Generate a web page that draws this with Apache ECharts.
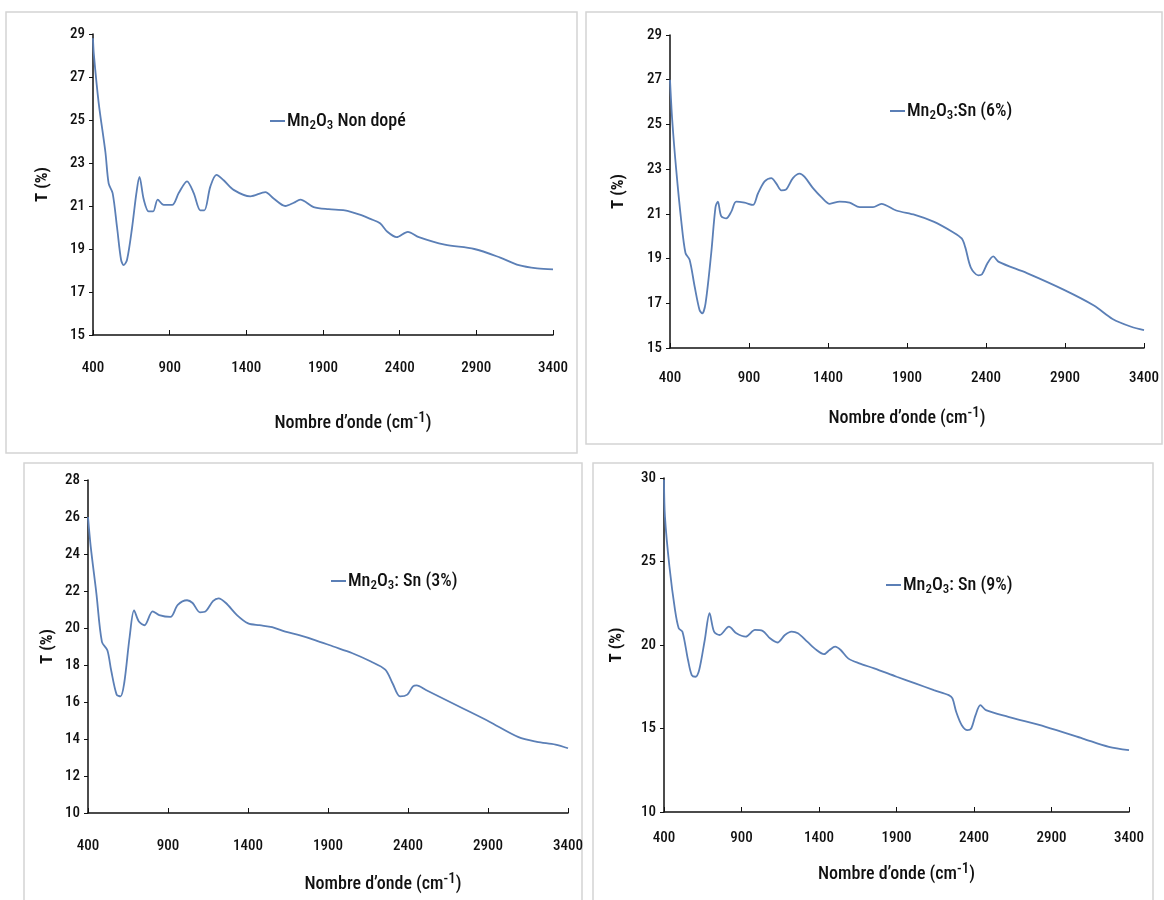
<!DOCTYPE html>
<html>
<head>
<meta charset="utf-8">
<script src="https://cdn.jsdelivr.net/npm/echarts@6/dist/echarts.min.js"></script>
<style>
html,body{margin:0;padding:0;background:#fff;}
#chart{width:1164px;height:900px;}
</style>
</head>
<body>
<div id="chart"></div>
<script>
// ---- Data ----
var xTicks = [400, 900, 1400, 1900, 2400, 2900, 3400];

var xNonDope = [400,405,437,481,502,528,557,583,600,622,655,683,703,731,763,792,822,861,916,959,1013,1057,1100,1126,1165,1205,1252,1317,1426,1524,1578,1654,1709,1752,1839,1937,2042,2140,2209,2272,2320,2380,2453,2525,2694,2887,3056,3177,3297,3400];
var tNonDope = [28.8,28.1,25.8,23.5,22.05,21.6,20.0,18.5,18.25,18.5,20.0,21.6,22.35,21.3,20.75,20.75,21.3,21.05,21.05,21.6,22.15,21.6,20.8,20.8,21.9,22.45,22.2,21.75,21.45,21.65,21.35,21.0,21.15,21.3,20.95,20.85,20.8,20.6,20.4,20.2,19.8,19.55,19.8,19.55,19.2,19.0,18.6,18.25,18.1,18.05];

var xSn6 = [400,414,439,471,498,524,556,587,604,625,661,688,703,724,756,788,819,872,925,956,999,1041,1073,1105,1136,1178,1221,1252,1305,1358,1411,1474,1537,1601,1685,1738,1832,1950,2068,2186,2246,2269,2304,2351,2375,2410,2446,2481,2659,2894,3083,3201,3319,3400];
var tSn6 = [27.0,25.2,23.0,20.7,19.25,18.95,17.75,16.7,16.55,17.0,19.25,21.3,21.55,20.9,20.8,21.1,21.55,21.5,21.4,21.9,22.45,22.6,22.35,22.05,22.1,22.6,22.8,22.65,22.15,21.75,21.45,21.55,21.5,21.3,21.3,21.45,21.15,20.95,20.65,20.2,19.9,19.5,18.6,18.25,18.3,18.8,19.1,18.85,18.35,17.6,16.9,16.3,15.95,15.8];

var xSn3 = [400,417,452,487,521,545,579,603,626,660,688,718,753,804,845,915,961,1019,1054,1100,1135,1181,1216,1262,1331,1401,1471,1551,1633,1725,1818,1933,2049,2165,2258,2304,2350,2396,2431,2454,2512,2744,2906,3091,3206,3322,3400];
var tSn3 = [26.0,24.4,21.9,19.25,18.8,17.7,16.4,16.3,17.0,19.5,20.95,20.35,20.15,20.9,20.7,20.6,21.25,21.5,21.35,20.85,20.9,21.45,21.6,21.35,20.7,20.25,20.15,20.05,19.8,19.6,19.35,19.0,18.65,18.2,17.75,17.0,16.3,16.4,16.85,16.9,16.65,15.65,14.95,14.1,13.85,13.7,13.5];

var xSn9 = [400,406,435,471,495,519,555,579,603,627,663,694,723,759,819,867,927,987,1036,1084,1132,1180,1223,1264,1324,1384,1432,1468,1504,1540,1588,1660,1756,1901,2021,2141,2237,2261,2285,2321,2358,2382,2410,2441,2477,2621,2862,3102,3270,3400];
var tSn9 = [29.9,27.7,24.7,22.1,21.0,20.8,19.1,18.2,18.1,18.5,20.3,21.9,20.8,20.6,21.1,20.7,20.5,20.9,20.85,20.4,20.15,20.6,20.8,20.7,20.2,19.7,19.45,19.7,19.9,19.7,19.2,18.9,18.6,18.1,17.7,17.3,17.0,16.8,16.0,15.2,14.9,15.0,15.8,16.4,16.1,15.7,15.1,14.4,13.9,13.7];

var seriesNames = ['Mn2O3 Non dopé', 'Mn2O3:Sn (6%)', 'Mn2O3: Sn (3%)', 'Mn2O3: Sn (9%)'];
var legendRich = [
  '{n|Mn}{s|2}{n|O}{s|3}{n| Non dopé}',
  '{n|Mn}{s|2}{n|O}{s|3}{n|:Sn (6%)}',
  '{n|Mn}{s|2}{n|O}{s|3}{n|: Sn (3%)}',
  '{n|Mn}{s|2}{n|O}{s|3}{n|: Sn (9%)}'
];
var yRanges = [[15,29,2],[15,29,2],[10,28,2],[10,30,5]];

function pairs(xs, ys){ return xs.map(function(x,i){ return [x, ys[i]]; }); }
var seriesData = [pairs(xNonDope,tNonDope), pairs(xSn6,tSn6), pairs(xSn3,tSn3), pairs(xSn9,tSn9)];

// ---- Layout ----
var FONT = '"Liberation Sans Narrow", "Roboto Condensed", Roboto, "Noto Sans", sans-serif';
var LINE = '#5b7fb6';
var TXT = '#111';
var grids = [
  {left: 93, top: 34, width: 460, height: 301},
  {left: 670, top: 35, width: 474, height: 313},
  {left: 88, top: 480, width: 480, height: 333},
  {left: 664, top: 478, width: 465, height: 334}
];
var xLabelMargin = [26, 23, 26, 19];
var xNameGap = [76, 58, 59, 50];
var xNamePadLeft = [60, 0, 110, 0];
var yNameGap = [42, 43, 32, 39];
var legendPos = [
  {left: 265, top: 107},
  {left: 885, top: 97},
  {left: 326, top: 567},
  {left: 881, top: 571}
];

var option = {
  animation: false,
  backgroundColor: '#fff',
  textStyle: {fontFamily: FONT},
  graphic: [
    {type:'rect', shape:{x:6,y:12,width:571,height:441}, style:{fill:'none', stroke:'#d4d4d4', lineWidth:1.5}, silent:true},
    {type:'rect', shape:{x:586,y:12,width:576,height:432}, style:{fill:'none', stroke:'#d4d4d4', lineWidth:1.5}, silent:true},
    {type:'rect', shape:{x:24,y:463,width:558,height:445}, style:{fill:'none', stroke:'#d4d4d4', lineWidth:1.5}, silent:true},
    {type:'rect', shape:{x:593,y:463,width:560,height:445}, style:{fill:'none', stroke:'#d4d4d4', lineWidth:1.5}, silent:true}
  ],
  grid: grids,
  legend: [],
  xAxis: [],
  yAxis: [],
  series: []
};

for (var i = 0; i < 4; i++) {
  option.xAxis.push({
    type: 'value', gridIndex: i, min: 400, max: 3400, interval: 500,
    name: '{a|Nombre d\u2019onde (cm}{sup|-1}{a|)}',
    nameLocation: 'middle', nameGap: xNameGap[i],
    nameTextStyle: {
      padding: [0, 0, 0, xNamePadLeft[i]],
      rich: {
        a: {fontFamily: FONT, fontSize: 18, fontWeight: 500, color: TXT},
        sup: {fontFamily: FONT, fontSize: 15, fontWeight: 500, color: TXT, padding: [0, 0, 10, 0]}
      }
    },
    axisLine: {show: true, lineStyle: {color: '#111', width: 1.5}},
    axisTick: {show: true, inside: true, length: 5, lineStyle: {color: '#111'}},
    axisLabel: {margin: xLabelMargin[i], fontSize: 15, fontWeight: 500, color: TXT, fontFamily: FONT,
      formatter: function(v){ return String(v); }},
    splitLine: {show: false}
  });
  option.yAxis.push({
    type: 'value', gridIndex: i, min: yRanges[i][0], max: yRanges[i][1], interval: yRanges[i][2],
    name: 'T (%)', nameLocation: 'middle', nameGap: yNameGap[i], nameRotate: 90,
    nameTextStyle: {fontSize: 17, fontWeight: 'bold', color: TXT, fontFamily: FONT},
    axisLine: {show: true, lineStyle: {color: '#111', width: 1.5}},
    axisTick: {show: true, inside: false, length: 4, lineStyle: {color: '#111'}},
    axisLabel: {margin: 8, fontSize: 15, fontWeight: 500, color: TXT, fontFamily: FONT,
      formatter: function(v){ return String(v); }},
    splitLine: {show: false}
  });
  option.legend.push({
    data: [seriesNames[i]],
    left: legendPos[i].left, top: legendPos[i].top,
    icon: 'rect', itemWidth: 15, itemHeight: 2, itemGap: 2,
    formatter: (function(k){ return function(){ return legendRich[k]; }; })(i),
    textStyle: {
      padding: [0, 0, 0, -3],
      rich: {
        n: {fontFamily: FONT, fontSize: 18, fontWeight: 500, color: TXT},
        s: {fontFamily: FONT, fontSize: 13, fontWeight: 500, color: TXT, padding: [9, 0, 0, 0]}
      }
    }
  });
  option.series.push({
    name: seriesNames[i], type: 'line', xAxisIndex: i, yAxisIndex: i,
    data: seriesData[i], showSymbol: false, smooth: 0.3,
    lineStyle: {color: LINE, width: 1.8}, itemStyle: {color: LINE}
  });
}

var chart = echarts.init(document.getElementById('chart'), null, {renderer: 'canvas'});
chart.setOption(option);
</script>
</body>
</html>
